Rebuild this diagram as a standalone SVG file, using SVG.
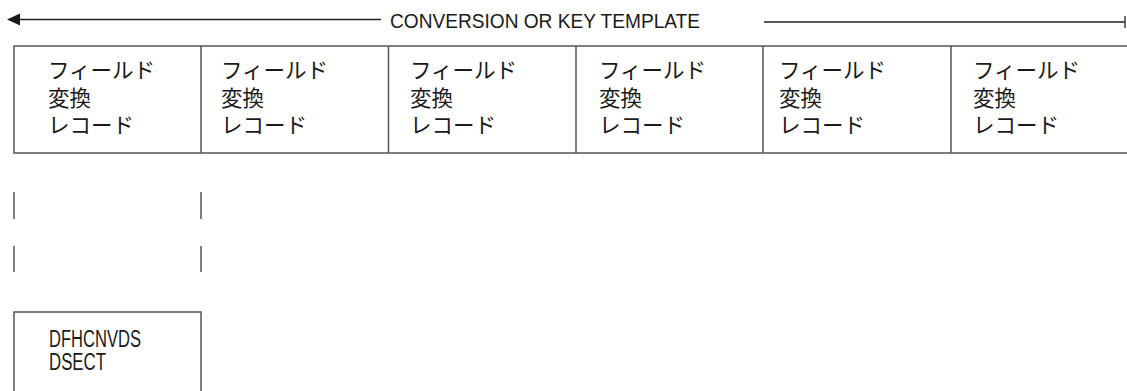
<svg xmlns="http://www.w3.org/2000/svg" width="1127" height="391" viewBox="0 0 1127 391">
<style>
.ln{stroke:#555;stroke-width:1.5;fill:none}
.dk{stroke:#222;stroke-width:1.3;fill:none}
.jp{font-family:"Noto Sans CJK JP","Noto Sans",sans-serif;font-size:21.5px;fill:#1a1a1a}
.en{font-family:"Liberation Sans Narrow","Liberation Sans",sans-serif;fill:#1a1a1a}
</style>
<rect width="1127" height="391" fill="#fff"/>
<g id="connectors">
<line class="dk" x1="381" y1="19.5" x2="19" y2="19.5"/>
<polygon points="7,19.5 20,13.5 20,25.5" fill="#1a1a1a"/>
<line class="dk" x1="764" y1="22" x2="1125" y2="22"/>
<line class="dk" x1="1125" y1="16" x2="1125" y2="28"/>
<line class="ln" x1="14" y1="192" x2="14" y2="219"/>
<line class="ln" x1="201" y1="192" x2="201" y2="219"/>
<line class="ln" x1="14" y1="246" x2="14" y2="272"/>
<line class="ln" x1="201" y1="246" x2="201" y2="272"/>
</g>
<g id="title">
<text class="en" x="390" y="27.5" font-size="21" textLength="310" lengthAdjust="spacingAndGlyphs">CONVERSION OR KEY TEMPLATE</text>
</g>
<g id="template">
<path class="ln" d="M1127,46 H14 V153 H1127"/>
<line class="ln" x1="201" y1="46" x2="201" y2="153"/>
<line class="ln" x1="388.5" y1="46" x2="388.5" y2="153"/>
<line class="ln" x1="576" y1="46" x2="576" y2="153"/>
<line class="ln" x1="763" y1="46" x2="763" y2="153"/>
<line class="ln" x1="951" y1="46" x2="951" y2="153"/>
</g>
<g id="field1"><text class="jp" x="48" y="78">フィールド</text><text class="jp" x="48" y="105.5">変換</text><text class="jp" x="48" y="133">レコード</text></g>
<g id="field2"><text class="jp" x="221" y="78">フィールド</text><text class="jp" x="221" y="105.5">変換</text><text class="jp" x="221" y="133">レコード</text></g>
<g id="field3"><text class="jp" x="410" y="78">フィールド</text><text class="jp" x="410" y="105.5">変換</text><text class="jp" x="410" y="133">レコード</text></g>
<g id="field4"><text class="jp" x="599" y="78">フィールド</text><text class="jp" x="599" y="105.5">変換</text><text class="jp" x="599" y="133">レコード</text></g>
<g id="field5"><text class="jp" x="779" y="78">フィールド</text><text class="jp" x="779" y="105.5">変換</text><text class="jp" x="779" y="133">レコード</text></g>
<g id="field6"><text class="jp" x="973" y="78">フィールド</text><text class="jp" x="973" y="105.5">変換</text><text class="jp" x="973" y="133">レコード</text></g>
<g id="dsect">
<path class="ln" d="M14,391 V312 H201 V391"/>
<text class="en" x="49" y="346.5" font-size="23" textLength="92" lengthAdjust="spacingAndGlyphs">DFHCNVDS</text>
<text class="en" x="49" y="370.3" font-size="23" textLength="57" lengthAdjust="spacingAndGlyphs">DSECT</text>
</g>
</svg>
